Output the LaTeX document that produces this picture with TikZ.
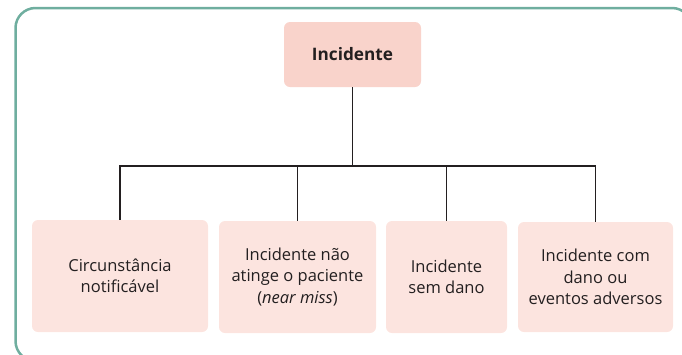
\documentclass[tikz,border=0pt]{standalone}
\usepackage{fontspec}
\setmainfont{Open Sans}
\definecolor{frameteal}{HTML}{6FAE9F}
\definecolor{toppink}{HTML}{F9D3CB}
\definecolor{boxpink}{HTML}{FCE4DF}
\definecolor{inkdark}{HTML}{231F20}
\begin{document}
\begin{tikzpicture}[x=1pt,y=-1pt,
  frame/.style={draw=frameteal,line width=2.5pt,rounded corners=20pt},
  topbox/.style={fill=toppink,rounded corners=6pt,minimum width=137pt,minimum height=65pt,inner sep=0pt,
    font=\fontsize{17.2}{21}\selectfont\bfseries,text=inkdark},
  leafbox/.style={fill=boxpink,rounded corners=6pt,minimum height=112pt,inner sep=0pt,align=center,
    font=\fontsize{16.5}{21.5}\selectfont,text=inkdark},
  link/.style={draw=inkdark,line width=1.6pt}]
\useasboundingbox (0,0) rectangle (682,354);
\draw[frame] (15.5,8) rectangle (692,361);
\node[topbox] (top) at (352.5,54.5) {Incidente};
\node[leafbox,minimum width=176pt] (b1) at (120,276) {Circunstância\\notificável};
\node[leafbox,minimum width=157pt] (b2) at (297.5,277) {Incidente não\\atinge o paciente\\(\textit{near miss})};
\node[leafbox,minimum width=121pt] (b3) at (446.5,277) {Incidente\\sem dano};
\node[leafbox,minimum width=155pt,minimum height=110pt] (b4) at (595.5,277) {Incidente com\\dano ou\\eventos adversos};
\coordinate (bar) at (0,166);
\draw[link] (top.south) -- (top.south |- bar);
\draw[link] (b1.north) -- (b1.north |- bar) -- (b4.north |- bar) -- (b4.north);
\draw[link] (b2.north) -- (b2.north |- bar);
\draw[link] (b3.north) -- (b3.north |- bar);
\end{tikzpicture}
\end{document}
